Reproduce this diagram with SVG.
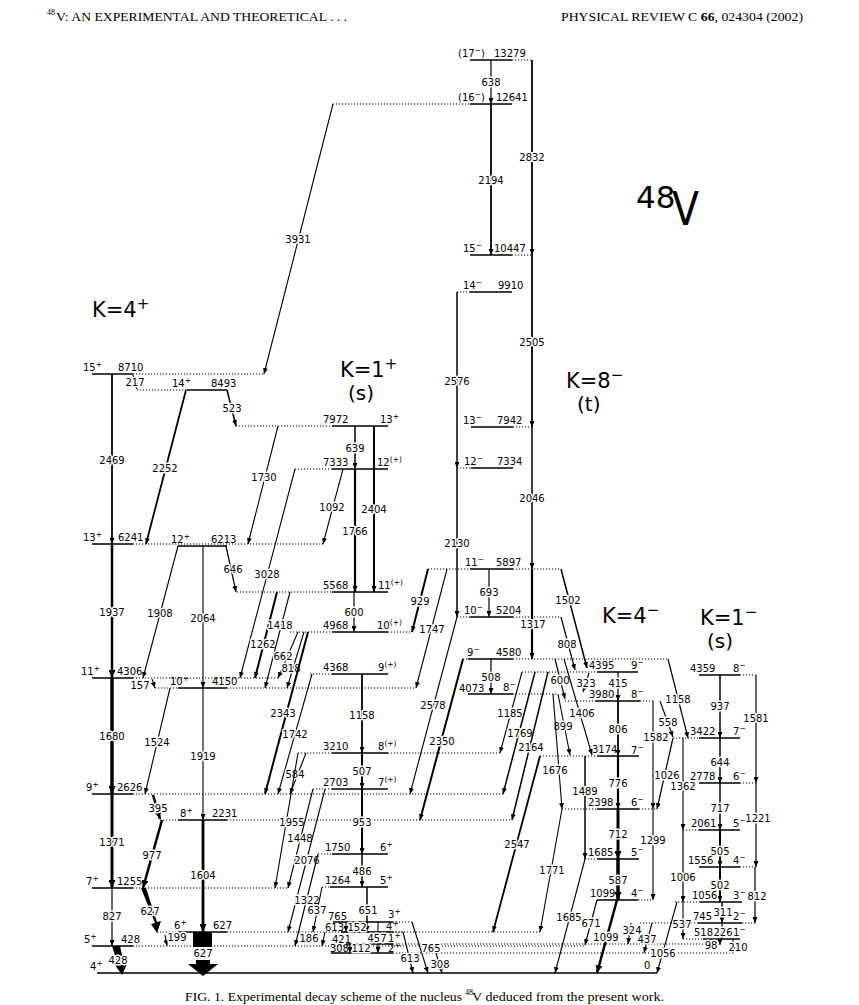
<svg xmlns="http://www.w3.org/2000/svg" width="859" height="1005" viewBox="0 0 859 1005">
<defs>
<style>
.lv{stroke:#000;stroke-width:1.5;fill:none}
.dt{stroke:#000;stroke-width:1;stroke-dasharray:1.2 1.8;fill:none}
.tr{stroke:#000;stroke-width:1.1;fill:none;marker-end:url(#a)}
.tb{stroke:#000;fill:none;marker-end:url(#b)}
text{font-family:"DejaVu Sans",sans-serif;font-size:10px;fill:#000}
.tl{text-anchor:middle;stroke:#fff;stroke-width:3;paint-order:stroke;stroke-linejoin:round}
.sp{font-size:7.5px}
.big{font-size:21px}
.hd{font-family:"Liberation Serif",serif;font-size:12.5px}
</style>
<marker id="a" viewBox="0 0 6 5" refX="6" refY="2.5" markerWidth="6" markerHeight="5" markerUnits="userSpaceOnUse" orient="auto"><path d="M0,0L6,2.5L0,5z"/></marker>
<marker id="b" viewBox="0 0 8 7" refX="8" refY="3.5" markerWidth="8" markerHeight="7" markerUnits="userSpaceOnUse" orient="auto"><path d="M0,0L8,3.5L0,7z"/></marker>
</defs>
<rect width="859" height="1005" fill="#fff"/>

<g id="header">
<text class="hd" x="47" y="15" style="font-size:8px">48</text>
<text class="hd" x="56" y="21" textLength="291" lengthAdjust="spacingAndGlyphs">V: AN EXPERIMENTAL AND THEORETICAL . . .</text>
<text class="hd" x="561" y="21" textLength="242" lengthAdjust="spacingAndGlyphs">PHYSICAL REVIEW C <tspan font-weight="bold">66</tspan>, 024304  (2002)</text>
</g>

<g id="titles">
<text class="big" x="92" y="317">K=4<tspan style="font-size:15px" dy="-8">+</tspan></text>
<text class="big" x="340" y="377">K=1<tspan style="font-size:15px" dy="-8">+</tspan></text>
<text class="big" x="348" y="400" style="font-size:20px">(s)</text>
<text class="big" x="566" y="388">K=8<tspan style="font-size:15px" dy="-8">−</tspan></text>
<text class="big" x="577" y="411" style="font-size:20px">(t)</text>
<text class="big" x="602" y="623">K=4<tspan style="font-size:15px" dy="-8">−</tspan></text>
<text class="big" x="700" y="625">K=1<tspan style="font-size:15px" dy="-8">−</tspan></text>
<text class="big" x="707" y="648" style="font-size:20px">(s)</text>
<text x="636" y="208" style="font-size:31px">48</text>
<text x="672" y="225" style="font-size:46px" textLength="27" lengthAdjust="spacingAndGlyphs">V</text>
</g>

<!-- K=4+ band and left levels -->
<g id="L0"><path class="lv" d="M97,973H657"/><text x="90" y="970">4<tspan class="sp" dy="-4">+</tspan></text><text x="644" y="969">0</text></g>
<g id="L428"><path class="lv" d="M92,946H133"/><path class="dt" d="M133,946H585"/><text x="84" y="943">5<tspan class="sp" dy="-4">+</tspan></text><text x="121" y="943">428</text></g>
<g id="L627"><path class="lv" d="M178,932H227"/><path class="dt" d="M157,932H178M227,932H540"/><text x="174" y="929">6<tspan class="sp" dy="-4">+</tspan></text><text x="213" y="929">627</text></g>
<g id="L1255"><path class="lv" d="M92,888H133"/><path class="dt" d="M133,888H288"/><text x="86" y="885">7<tspan class="sp" dy="-4">+</tspan></text><text x="117" y="885">1255</text></g>
<g id="L2231"><path class="lv" d="M178,820H227"/><path class="dt" d="M160,820H178M227,820H512"/><text x="180" y="817">8<tspan class="sp" dy="-4">+</tspan></text><text x="212" y="817">2231</text></g>
<g id="L2626"><path class="lv" d="M92,794H133"/><path class="dt" d="M133,794H503"/><text x="86" y="791">9<tspan class="sp" dy="-4">+</tspan></text><text x="117" y="791">2626</text></g>
<g id="L4150"><path class="lv" d="M178,688H227"/><path class="dt" d="M155,688H178M227,688H416"/><text x="170" y="685">10<tspan class="sp" dy="-4">+</tspan></text><text x="212" y="685">4150</text></g>
<g id="L4306"><path class="lv" d="M92,678H133"/><path class="dt" d="M133,678H280"/><text x="81" y="675">11<tspan class="sp" dy="-4">+</tspan></text><text x="117" y="675">4306</text></g>
<g id="L6213"><path class="lv" d="M178,546H227"/><text x="171" y="543">12<tspan class="sp" dy="-4">+</tspan></text><text x="211" y="543">6213</text></g>
<g id="L6241"><path class="lv" d="M92,544H133"/><path class="dt" d="M133,544H323"/><text x="83" y="541">13<tspan class="sp" dy="-4">+</tspan></text><text x="118" y="541">6241</text></g>
<g id="L8493"><path class="lv" d="M187,390H227"/><path class="dt" d="M137,390H187"/><text x="172" y="387">14<tspan class="sp" dy="-4">+</tspan></text><text x="211" y="387">8493</text></g>
<g id="L8710"><path class="lv" d="M92,374H133"/><path class="dt" d="M133,374H264"/><text x="83" y="371">15<tspan class="sp" dy="-4">+</tspan></text><text x="118" y="371">8710</text></g>

<!-- K=1+ band -->
<g id="L7972"><path class="lv" d="M332,426H388"/><path class="dt" d="M236,426H332"/><text x="323" y="423">7972</text><text x="380" y="423">13<tspan class="sp" dy="-4">+</tspan></text></g>
<g id="L7333"><path class="lv" d="M332,469H388"/><path class="dt" d="M295,469H332"/><text x="323" y="466">7333</text><text x="377" y="466">12<tspan class="sp" dy="-4">(+)</tspan></text></g>
<g id="L5568"><path class="lv" d="M332,592H388"/><path class="dt" d="M237,592H332"/><text x="323" y="589">5568</text><text x="378" y="589">11<tspan class="sp" dy="-4">(+)</tspan></text></g>
<g id="L4968"><path class="lv" d="M332,632H388"/><path class="dt" d="M290,632H332M388,632H412"/><text x="323" y="629">4968</text><text x="377" y="629">10<tspan class="sp" dy="-4">(+)</tspan></text></g>
<g id="L4368"><path class="lv" d="M332,674H388"/><path class="dt" d="M310,674H332"/><text x="323" y="671">4368</text><text x="378" y="671">9<tspan class="sp" dy="-4">(+)</tspan></text></g>
<g id="L3210"><path class="lv" d="M332,753H388"/><path class="dt" d="M298,753H332M388,753H500"/><text x="323" y="750">3210</text><text x="378" y="750">8<tspan class="sp" dy="-4">(+)</tspan></text></g>
<g id="L2703"><path class="lv" d="M332,789H388"/><path class="dt" d="M313,789H332"/><text x="323" y="786">2703</text><text x="378" y="786">7<tspan class="sp" dy="-4">(+)</tspan></text></g>
<g id="L1750"><path class="lv" d="M332,854H388"/><path class="dt" d="M318,854H332"/><text x="325" y="851">1750</text><text x="380" y="851">6<tspan class="sp" dy="-4">+</tspan></text></g>
<g id="L1264"><path class="lv" d="M330,887H388"/><path class="dt" d="M322,887H330"/><text x="325" y="884">1264</text><text x="380" y="884">5<tspan class="sp" dy="-4">+</tspan></text></g>
<g id="L765"><path class="lv" d="M333,922H393"/><path class="dt" d="M393,922H412"/><text x="328" y="920">765</text><text x="388" y="918">3<tspan class="sp" dy="-4">+</tspan></text></g>
<g id="L613"><path class="lv" d="M341,932H393"/><path class="dt" d="M393,932H403"/><text x="325" y="931">613</text><text x="386" y="930">4<tspan class="sp" dy="-4">+</tspan></text></g>
<g id="L421"><path class="lv" d="M346,944H393"/><path class="dt" d="M393,944H720"/><text x="332" y="943">421</text><text x="388" y="942">1<tspan class="sp" dy="-4">+</tspan></text></g>
<g id="L308"><path class="lv" d="M331,953H393"/><path class="dt" d="M393,953H735"/><text x="330" y="952">308</text><text x="388" y="952">2<tspan class="sp" dy="-4">+</tspan></text></g>

<!-- K=8- column -->
<g id="L13279"><path class="lv" d="M470,60H512"/><path class="dt" d="M512,60H532"/><text x="458" y="57">(17<tspan class="sp" dy="-4">−</tspan><tspan dy="4">)</tspan></text><text x="494" y="57">13279</text></g>
<g id="L12641"><path class="lv" d="M470,104H512"/><path class="dt" d="M333,104H470"/><text x="458" y="101">(16<tspan class="sp" dy="-4">−</tspan><tspan dy="4">)</tspan></text><text x="496" y="101">12641</text></g>
<g id="L10447"><path class="lv" d="M470,255H512"/><path class="dt" d="M512,255H532"/><text x="463" y="252">15<tspan class="sp" dy="-4">−</tspan></text><text x="494" y="252">10447</text></g>
<g id="L9910"><path class="lv" d="M470,292H512"/><path class="dt" d="M457,292H470"/><text x="463" y="289">14<tspan class="sp" dy="-4">−</tspan></text><text x="498" y="289">9910</text></g>
<g id="L7942"><path class="lv" d="M471,427H513"/><path class="dt" d="M513,427H532"/><text x="463" y="424">13<tspan class="sp" dy="-4">−</tspan></text><text x="497" y="424">7942</text></g>
<g id="L7334"><path class="lv" d="M471,468H513"/><path class="dt" d="M457,468H471"/><text x="464" y="465">12<tspan class="sp" dy="-4">−</tspan></text><text x="497" y="465">7334</text></g>
<g id="L5897"><path class="lv" d="M470,569H513"/><path class="dt" d="M428,569H470M513,569H561"/><text x="465" y="566">11<tspan class="sp" dy="-4">−</tspan></text><text x="496" y="566">5897</text></g>
<g id="L5204"><path class="lv" d="M470,617H513"/><path class="dt" d="M457,617H470M513,617H561"/><text x="464" y="614">10<tspan class="sp" dy="-4">−</tspan></text><text x="496" y="614">5204</text></g>
<g id="L4580"><path class="lv" d="M468,659H513"/><path class="dt" d="M463,659H468M513,659H668"/><text x="467" y="656">9<tspan class="sp" dy="-4">−</tspan></text><text x="496" y="656">4580</text></g>
<g id="L4073"><path class="lv" d="M468,694H513"/><path class="dt" d="M513,694H558"/><text x="459" y="692">4073</text><text x="503" y="691">8<tspan class="sp" dy="-4">−</tspan></text></g>

<!-- K=4- band -->
<g id="L4395"><path class="lv" d="M597,672H638"/><path class="dt" d="M522,672H597"/><text x="589" y="669">4395</text><text x="631" y="669">9<tspan class="sp" dy="-4">−</tspan></text></g>
<g id="L3980"><path class="lv" d="M595,701H640"/><path class="dt" d="M565,701H595M640,701H655"/><text x="589" y="698">3980</text><text x="631" y="698">8<tspan class="sp" dy="-4">−</tspan></text></g>
<g id="L3174"><path class="lv" d="M597,756H639"/><path class="dt" d="M540,756H597"/><text x="592" y="753">3174</text><text x="631" y="754">7<tspan class="sp" dy="-4">−</tspan></text></g>
<g id="L2398"><path class="lv" d="M597,809H639"/><path class="dt" d="M562,809H597M639,809H657"/><text x="588" y="806">2398</text><text x="631" y="806">6<tspan class="sp" dy="-4">−</tspan></text></g>
<g id="L1685"><path class="lv" d="M597,859H639"/><path class="dt" d="M585,859H597"/><text x="588" y="856">1685</text><text x="631" y="856">5<tspan class="sp" dy="-4">−</tspan></text></g>
<g id="L1099"><path class="lv" d="M597,900H638"/><path class="dt" d="M638,900H653"/><text x="590" y="897">1099</text><text x="631" y="897">4<tspan class="sp" dy="-4">−</tspan></text></g>

<!-- K=1- band -->
<g id="L4359"><path class="lv" d="M699,675H740"/><path class="dt" d="M740,675H756"/><text x="690" y="672">4359</text><text x="733" y="672">8<tspan class="sp" dy="-4">−</tspan></text></g>
<g id="L3422"><path class="lv" d="M699,738H740"/><path class="dt" d="M673,738H699"/><text x="690" y="735">3422</text><text x="733" y="735">7<tspan class="sp" dy="-4">−</tspan></text></g>
<g id="L2778"><path class="lv" d="M699,783H740"/><path class="dt" d="M740,783H756"/><text x="690" y="780">2778</text><text x="733" y="780">6<tspan class="sp" dy="-4">−</tspan></text></g>
<g id="L2061"><path class="lv" d="M699,830H740"/><path class="dt" d="M683,830H699"/><text x="691" y="827">2061</text><text x="733" y="827">5<tspan class="sp" dy="-4">−</tspan></text></g>
<g id="L1556"><path class="lv" d="M699,867H740"/><path class="dt" d="M740,867H756"/><text x="688" y="864">1556</text><text x="733" y="864">4<tspan class="sp" dy="-4">−</tspan></text></g>
<g id="L1056"><path class="lv" d="M700,902H742"/><path class="dt" d="M675,902H700"/><text x="692" y="899">1056</text><text x="733" y="899">3<tspan class="sp" dy="-4">−</tspan></text></g>
<g id="L745"><path class="lv" d="M698,923H742"/><path class="dt" d="M640,923H698M742,923H755"/><text x="693" y="920">745</text><text x="733" y="920">2<tspan class="sp" dy="-4">−</tspan></text></g>
<g id="L518"><path class="lv" d="M703,939H740"/><path class="dt" d="M683,939H703"/><text x="694" y="936">518</text><text x="733" y="936">1<tspan class="sp" dy="-4">−</tspan></text></g>

<g id="transitions">
<path class="tr" d="M333,104L264,374"/><text class="tl" x="298" y="243">3931</text>
<path class="tr" d="M133,375L137,389"/><text class="tl" x="135" y="386">217</text>
<path class="tr" style="stroke-width:1.8" d="M112,374V544"/><text class="tl" x="112" y="464">2469</text>
<path class="tr" style="stroke-width:1.8" d="M186,390L146,544"/><text class="tl" x="165" y="472">2252</text>
<path class="tr" style="stroke-width:1.6" d="M227,390L236,426"/><text class="tl" x="232" y="412">523</text>
<path class="tr" d="M278,426L248,544"/><text class="tl" x="264" y="481">1730</text>
<path class="tr" d="M295,469L240,678"/><text class="tl" x="267" y="578">3028</text>
<path class="tr" d="M343,469L323,544"/><text class="tl" x="332" y="511">1092</text>
<path class="tr" style="stroke-width:1.5" d="M355,426V469"/><text class="tl" x="355" y="452">639</text>
<path class="tr" style="stroke-width:2.2" d="M355,469V592"/><text class="tl" x="355" y="535">1766</text>
<path class="tr" style="stroke-width:2" d="M374,426V592"/><text class="tl" x="374" y="513">2404</text>
<path class="tr" style="stroke-width:1.2" d="M354,592V632"/><text class="tl" x="354" y="616">600</text>
<path class="tb" style="stroke-width:2.5" d="M112,544V678"/><text class="tl" x="112" y="616">1937</text>
<path class="tr" d="M178,546L143,678"/><text class="tl" x="160" y="617">1908</text>
<path class="tr" d="M203,546V688"/><text class="tl" x="203" y="622">2064</text>
<path class="tr" style="stroke-width:1.2" d="M226,546L236,592"/><text class="tl" x="233" y="573">646</text>
<path class="tr" style="stroke-width:2" d="M277,592L255,678"/><text class="tl" x="263" y="648">1262</text>
<path class="tr" d="M290,592L265,688"/><text class="tl" x="280" y="629">1418</text>
<path class="tr" d="M298,632L278,678"/><text class="tl" x="283" y="660">662</text>
<path class="tr" d="M304,632L287,688"/><text class="tl" x="291" y="672">818</text>
<path class="tr" style="stroke-width:2" d="M308,632L265,794"/><text class="tl" x="283" y="717">2343</text>
<path class="tr" d="M312,674L278,794"/><text class="tl" x="295" y="738">1742</text>
<path class="tr" style="stroke-width:1.8" d="M362,674V753"/><text class="tl" x="362" y="719">1158</text>
<path class="tr" d="M152,679L155,688"/><text class="tl" x="140" y="689">157</text>
<path class="tb" style="stroke-width:3.5" d="M112,678V794"/><text class="tl" x="112" y="740">1680</text>
<path class="tr" d="M170,688L145,794"/><text class="tl" x="157" y="746">1524</text>
<path class="tr" d="M203,688V820"/><text class="tl" x="203" y="760">1919</text>
<path class="tr" d="M306,753L290,794"/><text class="tl" x="295" y="778">584</text>
<path class="tr" style="stroke-width:2" d="M362,753V789"/><text class="tl" x="362" y="775">507</text>
<path class="tr" style="stroke-width:2" d="M362,789V854"/><text class="tl" x="362" y="826">953</text>
<path class="tb" style="stroke-width:3" d="M112,794V888"/><text class="tl" x="112" y="846">1371</text>
<path class="tb" style="stroke-width:2.5" d="M153,795L160,819"/><text class="tl" x="158" y="812">395</text>
<path class="tb" style="stroke-width:2.5" d="M162,820L143,888"/><text class="tl" x="152" y="859">977</text>
<path class="tb" style="stroke-width:2.8" d="M203,820V932"/><text class="tl" x="203" y="879">1604</text>
<path class="tr" d="M298,753L275,888"/><text class="tl" x="292" y="826">1955</text>
<path class="tr" d="M313,789L288,888"/><text class="tl" x="300" y="842">1448</text>
<path class="tr" d="M325,789L288,932"/><text class="tl" x="307" y="864">2076</text>
<path class="tr" d="M318,854L295,946"/><text class="tl" x="307" y="904">1322</text>
<path class="tr" d="M322,887L313,932"/><text class="tl" x="317" y="914">637</text>
<path class="tr" style="stroke-width:1.5" d="M362,854V887"/><text class="tl" x="362" y="875">486</text>
<path class="tr" style="stroke-width:1.2" d="M112,888V946"/><text class="tl" x="112" y="920">827</text>
<path d="M141,888L146,888L157,922L161,921L157,933L151,924L155,923Z"/><text class="tl" x="150" y="915">627</text>
<path class="tr" d="M165,935L167,946"/><text class="tl" x="177" y="941">199</text>
<path d="M112,946L120,946L124,964L127,964L122,975L115,965L118,965Z"/><text class="tl" x="118" y="964">428</text>
<path d="M193,932H212V947H193Z"/><text class="tl" x="203" y="957">627</text>
<path d="M196,960H210V964H218L203,976L188,964H196Z"/>
<path class="tr" style="stroke-width:1.5" d="M367,887V932"/><text class="tl" x="368" y="914">651</text>
<path class="tr" d="M325,932L322,946"/><text class="tl" x="309" y="942">186</text>
<path class="tr" d="M346,922V932"/><text class="tl" x="357" y="931">152</text>
<path class="tr" d="M378,922V953"/><text class="tl" x="377" y="942">457</text>
<path class="tr" d="M350,944V953"/><text class="tl" x="361" y="952">112</text>
<path class="tr" d="M403,932L413,973"/><text class="tl" x="410" y="962">613</text>
<path class="tr" d="M412,922L428,973"/><text class="tl" x="431" y="952">765</text>
<path class="tr" d="M436,953L442,973"/><text class="tl" x="440" y="968">308</text>

<path class="tr" style="stroke-width:1.2" d="M491,60V104"/><text class="tl" x="491" y="86">638</text>
<path class="tr" style="stroke-width:1.8" d="M491,104V255"/><text class="tl" x="491" y="184">2194</text>
<path class="tr" style="stroke-width:1.8" d="M532,60V255"/><text class="tl" x="532" y="161">2832</text>
<path class="tr" style="stroke-width:1.8" d="M532,255V427"/><text class="tl" x="532" y="346">2505</text>
<path class="tr" style="stroke-width:1.5" d="M457,292V468"/><text class="tl" x="457" y="385">2576</text>
<path class="tr" style="stroke-width:1.5" d="M532,427V569"/><text class="tl" x="532" y="502">2046</text>
<path class="tr" style="stroke-width:1.5" d="M457,468V617"/><text class="tl" x="457" y="547">2130</text>
<path class="tr" style="stroke-width:1.2" d="M489,569V617"/><text class="tl" x="489" y="596">693</text>
<path class="tr" style="stroke-width:2.2" d="M532,569V659"/><text class="tl" x="533" y="628">1317</text>
<path class="tr" style="stroke-width:2" d="M428,569L412,632"/><text class="tl" x="420" y="605">929</text>
<path class="tr" d="M447,569L416,688"/><text class="tl" x="432" y="633">1747</text>
<path class="tr" d="M457,617L410,794"/><text class="tl" x="433" y="709">2578</text>
<path class="tr" style="stroke-width:1.2" d="M491,659V694"/><text class="tl" x="491" y="681">508</text>
<path class="tr" style="stroke-width:2" d="M463,659L420,820"/><text class="tl" x="442" y="745">2350</text>
<path class="tr" d="M522,672L500,753"/><text class="tl" x="510" y="717">1185</text>
<path class="tr" style="stroke-width:1.5" d="M535,672L503,794"/><text class="tl" x="520" y="737">1769</text>
<path class="tr" style="stroke-width:1.5" d="M548,672L512,820"/><text class="tl" x="531" y="751">2164</text>
<path class="tr" style="stroke-width:1.8" d="M540,756L493,932"/><text class="tl" x="517" y="848">2547</text>
<path class="tr" style="stroke-width:1.5" d="M561,569L587,668"/><text class="tl" x="568" y="604">1502</text>
<path class="tr" style="stroke-width:1.2" d="M561,617L575,670"/><text class="tl" x="567" y="648">808</text>
<path class="tr" d="M555,659L565,699"/><text class="tl" x="560" y="684">600</text>
<path class="tr" d="M589,673L583,692"/><text class="tl" x="586" y="687">323</text>
<path class="tr" d="M564,659L592,755"/><text class="tl" x="582" y="717">1406</text>
<path class="tr" d="M558,694L570,755"/><text class="tl" x="563" y="730">899</text>
<path class="tr" d="M553,694L562,809"/><text class="tl" x="555" y="774">1676</text>
<path class="tr" d="M562,809L540,932"/><text class="tl" x="552" y="874">1771</text>
<path class="tr" style="stroke-width:1.5" d="M585,756V859"/><text class="tl" x="585" y="795">1489</text>
<path class="tr" d="M585,859L555,973"/><text class="tl" x="569" y="921">1685</text>
<path class="tr" style="stroke-width:1.2" d="M618,672V701"/><text class="tl" x="618" y="687">415</text>
<path class="tr" style="stroke-width:1.8" d="M618,701V756"/><text class="tl" x="618" y="733">806</text>
<path class="tr" style="stroke-width:2.2" d="M618,756V809"/><text class="tl" x="618" y="787">776</text>
<path class="tb" style="stroke-width:3" d="M618,809V859"/><text class="tl" x="618" y="838">712</text>
<path class="tb" style="stroke-width:3.5" d="M618,859V900"/><text class="tl" x="618" y="884">587</text>
<path class="tb" style="stroke-width:2.5" d="M617,900L597,973"/><text class="tl" x="606" y="941">1099</text>
<path class="tr" style="stroke-width:1.2" d="M597,900L585,945"/><text class="tl" x="591" y="927">671</text>
<path class="tr" style="stroke-width:1.2" d="M668,659L688,738"/><text class="tl" x="678" y="703">1158</text>
<path class="tr" d="M660,701L673,737"/><text class="tl" x="668" y="726">558</text>
<path class="tr" d="M653,701V809"/><text class="tl" x="656" y="741">1582</text>
<path class="tr" style="stroke-width:1.2" d="M673,738L657,809"/><text class="tl" x="667" y="779">1026</text>
<path class="tr" d="M653,809V900"/><text class="tl" x="653" y="844">1299</text>
<path class="tr" d="M683,738V830"/><text class="tl" x="683" y="790">1362</text>
<path class="tr" style="stroke-width:1.2" d="M683,830V902"/><text class="tl" x="683" y="881">1006</text>
<path class="tr" d="M683,902V939"/><text class="tl" x="682" y="928">537</text>
<path class="tr" d="M677,902L657,973"/><text class="tl" x="663" y="957">1056</text>
<path class="tr" d="M631,923L628,944"/><text class="tl" x="632" y="934">324</text>
<path class="tr" d="M652,923L644,953"/><text class="tl" x="647" y="943">437</text>
<path class="tr" style="stroke-width:1.5" d="M720,675V738"/><text class="tl" x="720" y="710">937</text>
<path class="tr" style="stroke-width:1.2" d="M756,675V783"/><text class="tl" x="756" y="722">1581</text>
<path class="tr" style="stroke-width:1.5" d="M720,738V783"/><text class="tl" x="720" y="766">644</text>
<path class="tr" style="stroke-width:1.5" d="M720,783V830"/><text class="tl" x="720" y="812">717</text>
<path class="tr" style="stroke-width:1.2" d="M756,783V867"/><text class="tl" x="758" y="822">1221</text>
<path class="tr" style="stroke-width:2" d="M720,830V867"/><text class="tl" x="720" y="855">505</text>
<path class="tr" style="stroke-width:2" d="M720,867V902"/><text class="tl" x="720" y="889">502</text>
<path class="tr" style="stroke-width:1.2" d="M755,867V923"/><text class="tl" x="757" y="900">812</text>
<path class="tr" style="stroke-width:1.5" d="M722,902V923"/><text class="tl" x="723" y="916">311</text>
<path class="tr" style="stroke-width:1.2" d="M722,923V939"/><text class="tl" x="723" y="936">226</text>
<path class="tr" d="M720,939V945"/><text class="tl" x="711" y="949">98</text>
<path class="tr" d="M733,939V953"/><text class="tl" x="738" y="951">210</text>
</g>

<g id="caption">
<text class="hd" x="185" y="1001" textLength="277" lengthAdjust="spacingAndGlyphs">FIG. 1. Experimental decay scheme of the nucleus</text>
<text class="hd" x="465" y="995" style="font-size:8px">48</text>
<text class="hd" x="472" y="1001" textLength="192" lengthAdjust="spacingAndGlyphs">V deduced from the present work.</text>
</g>
</svg>
